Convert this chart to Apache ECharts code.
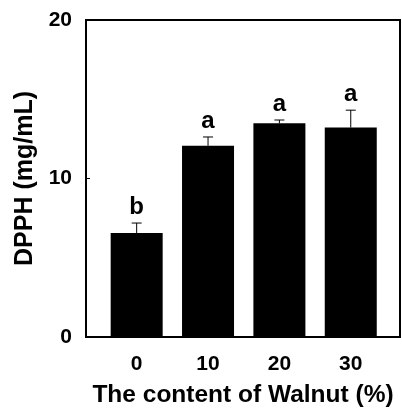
<!DOCTYPE html>
<html>
<head>
<meta charset="utf-8">
<script src="https://cdn.jsdelivr.net/npm/echarts@6/dist/echarts.min.js"></script>
<style>html,body{margin:0;padding:0;background:#fff}#c{width:402px;height:413px}</style>
</head>
<body>
<div id="c"></div>
<script>
var categories = [0, 10, 20, 30];
var values = [6.56, 12.06, 13.48, 13.21];
var errors = [0.63, 0.56, 0.21, 1.10];
var letters = ['b', 'a', 'a', 'a'];
var yTicks = [0, 10, 20];
var xName = 'The content of Walnut (%)';
var yName = 'DPPH (mg/mL)';

var FONT = '"Liberation Sans", Arial, sans-serif';
var chart = echarts.init(document.getElementById('c'), null, {renderer: 'canvas'});

var barData = categories.map(function (c, i) { return [c, values[i]]; });
var errData = categories.map(function (c, i) { return [c, values[i], errors[i]]; });

chart.setOption({
  animation: false,
  grid: {left: 86, top: 20, right: 2, bottom: 74, show: true, borderColor: '#000', borderWidth: 2, backgroundColor: 'transparent'},
  xAxis: {
    type: 'value', min: -7.1, max: 36.9,
    name: xName, nameLocation: 'middle', nameGap: 46,
    nameTextStyle: {fontFamily: FONT, fontWeight: 'bold', fontSize: 24.5, color: '#000'},
    axisLine: {show: true, onZero: false, lineStyle: {color: '#000', width: 2}},
    axisTick: {show: false},
    splitLine: {show: false},
    axisLabel: {customValues: categories, margin: 17, fontFamily: FONT, fontWeight: 'bold', fontSize: 21, color: '#000'}
  },
  yAxis: {
    type: 'value', min: yTicks[0], max: yTicks[yTicks.length - 1], interval: 10,
    name: yName, nameLocation: 'middle', nameGap: 48,
    nameTextStyle: {fontFamily: FONT, fontWeight: 'bold', fontSize: 25, color: '#000'},
    axisLine: {show: true, onZero: false, lineStyle: {color: '#000', width: 2}},
    axisTick: {show: true, inside: true, length: 4, lineStyle: {color: '#000', width: 1}},
    splitLine: {show: false},
    axisLabel: {margin: 14, fontFamily: FONT, fontWeight: 'bold', fontSize: 21, color: '#000'}
  },
  series: [
    {
      type: 'bar', data: barData, barWidth: 52,
      itemStyle: {color: '#000'}
    },
    {
      type: 'custom', data: errData, z: 10,
      renderItem: function (params, api) {
        var x = api.value(0), v = api.value(1), e = api.value(2);
        var lt = letters[params.dataIndex];
        var p0 = api.coord([x, v]);
        var p1 = api.coord([x, v + e]);
        return {
          type: 'group',
          children: [
            {type: 'line', shape: {x1: p0[0], y1: p0[1], x2: p1[0], y2: p1[1]}, style: {stroke: '#000', lineWidth: 1}},
            {type: 'line', shape: {x1: p1[0] - 5, y1: p1[1], x2: p1[0] + 5, y2: p1[1]}, style: {stroke: '#000', lineWidth: 1}},
            {type: 'text', x: p1[0], y: p1[1] - 4, style: {text: lt, fontFamily: FONT, fontWeight: 'bold', fontSize: 24, fill: '#000', align: 'center', verticalAlign: 'bottom'}}
          ]
        };
      }
    }
  ]
});
</script>
</body>
</html>
